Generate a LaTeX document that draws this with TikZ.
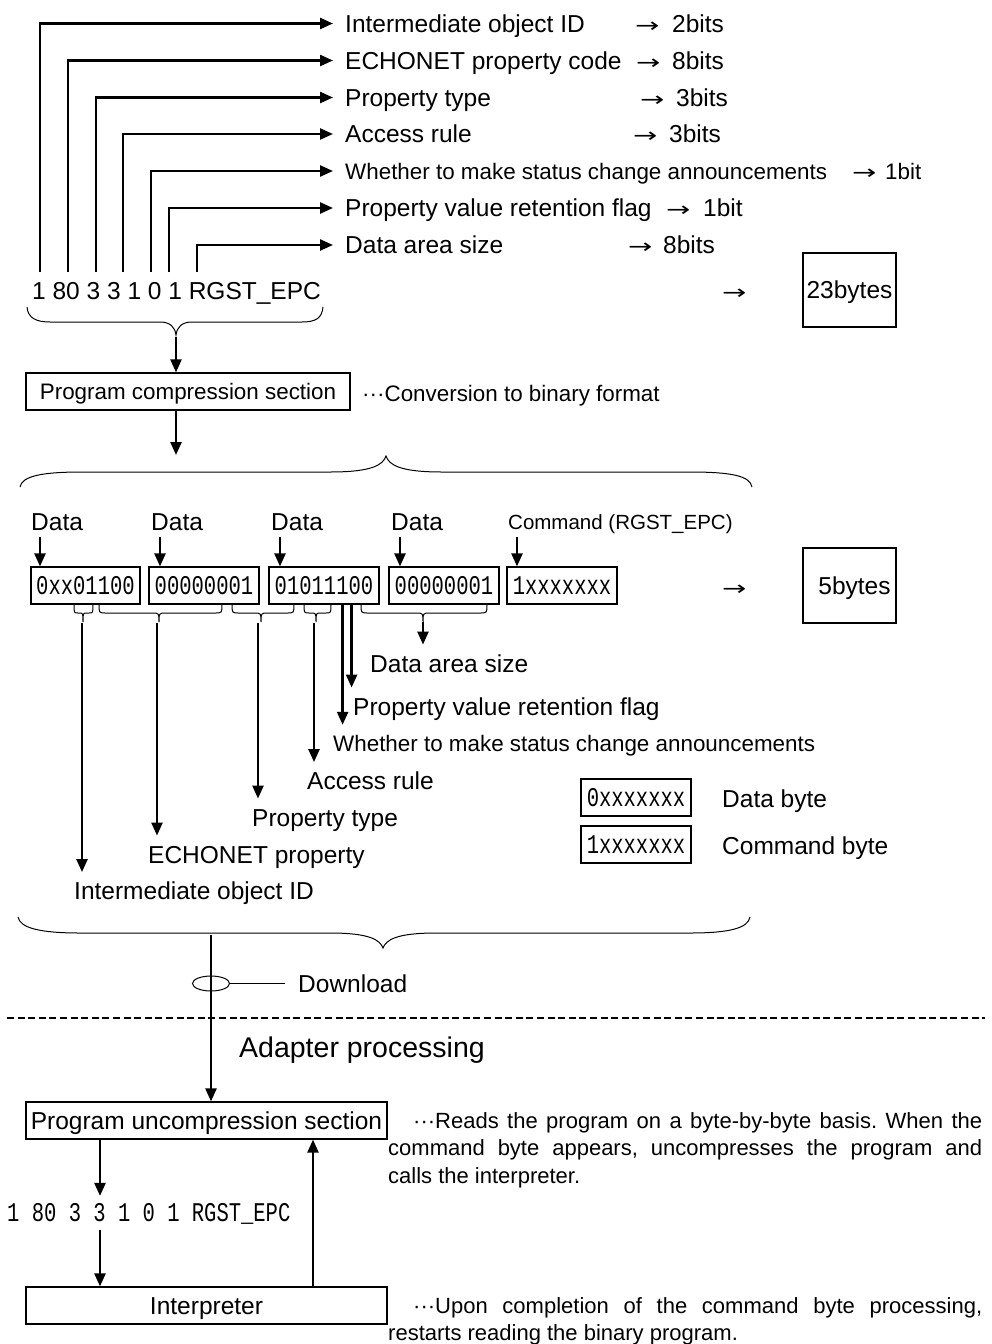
\documentclass[tikz,border=0pt]{standalone}
\usepackage{fontspec}
\usepackage{graphicx}
\setmainfont{Liberation Sans}
\newfontfamily\bytefont[FakeStretch=0.76]{Liberation Mono}
\newfontfamily\arrowfont{DejaVu Sans}
\usetikzlibrary{arrows.meta,shapes.geometric}
\newcommand\setfs[1]{\fontsize{#1}{#1}\selectfont}
\newcommand\textarrow{\scalebox{1.45}[1]{\arrowfont →}}
\newcommand\bytebrace[4]{%
  \draw[br] (#1,604) .. controls (#1,613) .. (#1+#4,613) -- (#3-#4,613)
    .. controls (#3,613) .. (#3,622) .. controls (#3,613) .. (#3+#4,613)
    -- (#2-#4,613) .. controls (#2,613) .. (#2,604);}
\frenchspacing
\begin{document}
\begin{tikzpicture}[x=1pt,y=-1pt,
  arr/.style={line width=2.4pt,-{Triangle[length=13pt,width=11pt]}},
  br/.style={line width=1pt},
  lbl/.style={anchor=west,inner sep=0pt,text depth=0pt},
  fA/.style={font=\setfs{24.5},text height=17.5pt},
  fB/.style={font=\setfs{22.4},text height=16pt},
  fC/.style={font=\setfs{20.5},text height=14.7pt},
  fD/.style={font=\setfs{28.5},text height=20.4pt},
  fAr/.style={font=\setfs{20},text height=15pt},
  fM/.style={font=\bytefont\setfs{27},text height=17.8pt},
  sbox/.style={draw,line width=1.2pt,inner sep=0pt,minimum height=37pt,text depth=0pt},
  bytebox/.style={sbox,fM,minimum width=110pt},
  para/.style={anchor=north west,inner sep=0pt,text width=594pt,align=justify,
    font=\fontsize{22}{27.5}\selectfont},
]
\useasboundingbox (0,0) rectangle (992,1344);

% ---------- top: field list ----------
\node[lbl,fA] (l1) at (345,23.5) {Intermediate object ID};
\node[lbl,fA] (l2) at (345,60.5) {ECHONET property code};
\node[lbl,fA] (l3) at (345,97.5) {Property type};
\node[lbl,fA] (l4) at (345,134) {Access rule};
\node[lbl,fB] (l5) at (345,171) {Whether to make status change announcements};
\node[lbl,fA] (l6) at (345,208) {Property value retention flag};
\node[lbl,fA] (l7) at (345,245) {Data area size};

\node[lbl,fAr] (r1a) at (635,24.5) {\textarrow};  \node[lbl,fA] (r1) at (672,23.5) {2bits};
\node[lbl,fAr] (r2a) at (636,61.5) {\textarrow};  \node[lbl,fA] (r2) at (672,60.5) {8bits};
\node[lbl,fAr] (r3a) at (640,98.5) {\textarrow};  \node[lbl,fA] (r3) at (676,97.5) {3bits};
\node[lbl,fAr] (r4a) at (633,135) {\textarrow};   \node[lbl,fA] (r4) at (669,134) {3bits};
\node[lbl,fAr] (r5a) at (852,172) {\textarrow};   \node[lbl,fB] (r5) at (885,171) {1bit};
\node[lbl,fAr] (r6a) at (666,209) {\textarrow};   \node[lbl,fA] (r6) at (703,208) {1bit};
\node[lbl,fAr] (r7a) at (628,246) {\textarrow};   \node[lbl,fA] (r7) at (663,245) {8bits};

\node[lbl,fA] (code) at (32,291) {1 80 3 3 1 0 1 RGST\_EPC};
\foreach \i/\x in {1/40,2/68,3/96,4/123,5/151,6/169,7/197}{
  \coordinate (c\i) at (\x,272);
  \draw[arr,shorten >=12pt] (c\i) |- (l\i.west);
}

\node[lbl,fAr] (ar23) at (722,292) {\textarrow};
\node[sbox,fA,minimum width=93pt,minimum height=74pt] (bytes23) at (849.5,290) {23bytes};

% brace under the source line
\draw[br] (27,307) .. controls (28,318) and (36,322) .. (50,322) -- (160,322)
  .. controls (170,322) and (175,327) .. (176,335)
  .. controls (177,327) and (182,322) .. (192,322) -- (302,322)
  .. controls (316,322) and (322,318) .. (323,307);
\coordinate (t0) at (176,337);

\node[sbox,fB,minimum width=324pt] (pcs) at (188,391.5) {Program compression section};
\draw[arr] (t0) -- (t0 |- pcs.north);
\node[lbl,fB] (conv) at (362,393) {···Conversion to binary format};
\coordinate (t1) at (176,455);
\draw[arr] (pcs.south -| t1) -- (t1);

% big brace (open downwards)
\draw[br] (20,487) .. controls (22,476) and (42,472) .. (82,472) -- (330,472)
  .. controls (372,472) and (383,465) .. (386,456)
  .. controls (389,465) and (400,472) .. (442,472) -- (690,472)
  .. controls (732,472) and (750,476) .. (752,487);

% ---------- compressed bytes ----------
\node[lbl,fA] (d1) at (31,521.5) {Data};
\node[lbl,fA] (d2) at (151,521.5) {Data};
\node[lbl,fA] (d3) at (271,521.5) {Data};
\node[lbl,fA] (d4) at (391,521.5) {Data};
\node[lbl,fC] (d5) at (508,522.5) {Command (RGST\_EPC)};

\node[bytebox,minimum width=109pt] (b1) at (85.5,585.5) {0xx01100};
\node[bytebox] (b2) at (204,585.5) {00000001};
\node[bytebox] (b3) at (324,585.5) {01011100};
\node[bytebox] (b4) at (444,585.5) {00000001};
\node[bytebox] (b5) at (562,585.5) {1xxxxxxx};

\foreach \i in {1,...,5}{
  \draw[arr,shorten <=7pt] ([xshift=9pt]d\i.south west) -- ([xshift=9pt]d\i.south west |- b\i.north);
}

\node[lbl,fAr] (ar5) at (722,588) {\textarrow};
\node[sbox,fA,minimum width=93pt,minimum height=75pt] (bytes5) at (849.5,585.5) {\hspace*{10pt}5bytes};

% small braces under the bytes
\bytebrace{74}{93}{83}{4}
\bytebrace{99}{222}{159}{7}
\bytebrace{232}{294}{261}{7}
\bytebrace{304}{331}{316}{5}
\bytebrace{361}{487}{423}{7}
\coordinate (bt1) at (82,623);
\coordinate (bt2) at (157,623);
\coordinate (bt3) at (258,623);
\coordinate (bt4) at (314,623);
\coordinate (bt5) at (423,622);

\node[lbl,fA] (dsz) at (370,663.5) {Data area size};
\node[lbl,fA] (pvr) at (353,706.5) {Property value retention flag};
\node[lbl,fB] (wsc) at (333,743) {Whether to make status change announcements};
\node[lbl,fA] (acc) at (307,781) {Access rule};
\node[lbl,fA] (pty) at (252,817.5) {Property type};
\node[lbl,fA] (ech) at (148,854.5) {ECHONET property};
\node[lbl,fA] (iid) at (74,891) {Intermediate object ID};

\draw[arr,shorten >=10pt] (bt1) -- (bt1 |- iid.north);
\draw[arr,shorten >=10pt] (bt2) -- (bt2 |- ech.north);
\draw[arr,shorten >=10pt] (bt3) -- (bt3 |- pty.north);
\draw[arr,shorten >=10pt] (bt4) -- (bt4 |- acc.north);
\draw[arr,shorten >=10pt] ([xshift=-37pt]b3.south east) -- ([xshift=-37pt]b3.south east |- wsc.north);
\draw[arr,shorten >=10pt] ([xshift=-28pt]b3.south east) -- ([xshift=-28pt]b3.south east |- pvr.north);
\draw[arr,shorten >=10pt] (bt5) -- (bt5 |- dsz.north);

% legend
\node[bytebox] (lg0) at (636,797.5) {0xxxxxxx};
\node[bytebox] (lg1) at (636,844.5) {1xxxxxxx};
\node[lbl,fA] (lgt0) at (722,798.5) {Data byte};
\node[lbl,fA] (lgt1) at (722,845.5) {Command byte};

% big brace (closed downwards)
\draw[br] (18,917) .. controls (20,928) and (40,933) .. (80,933) -- (330,933)
  .. controls (370,933) and (380,940) .. (383,948)
  .. controls (386,940) and (396,933) .. (436,933) -- (690,933)
  .. controls (730,933) and (748,928) .. (750,917);

% ---------- download ----------
\coordinate (dtop) at (211,935);
\node[draw,ellipse,line width=1pt,minimum width=37pt,minimum height=15pt,inner sep=0pt] (ell) at (211,983.5) {};
\node[lbl,fA] (dl) at (298,983.5) {Download};
\draw[line width=1pt] (ell.east) -- ([xshift=-13pt]dl.west);

\coordinate (dsL) at (7,1018);
\coordinate (dsR) at (985,1018);
\draw[line width=1.3pt,dash pattern=on 7pt off 3.6pt] (dsL) -- (dsR);

\node[lbl,fD] (ap) at (239,1047) {Adapter processing};

% ---------- adapter ----------
\node[sbox,fA,minimum width=361pt] (puc) at (206.5,1120.5) {Program uncompression section};
\draw[arr] (dtop) -- (dtop |- puc.north);

\node[lbl,fM] (ucode) at (7,1213) {1 80 3 3 1 0 1 RGST\_EPC};
\node[sbox,fA,minimum width=361pt] (itp) at (206.5,1305.5) {Interpreter};

\coordinate (k1) at (100,1139);
\coordinate (k3) at (313,1287);
\draw[arr,shorten >=8pt] (puc.south -| k1) -- (ucode.north -| k1);
\draw[arr,shorten <=8pt] (ucode.south -| k1) -- (itp.north -| k1);
\draw[arr] (itp.north -| k3) -- (puc.south -| k3);

\node[para] (rd) at (388,1112) {\hyphenpenalty=10000\exhyphenpenalty=10000
  \hspace*{25pt}···Reads the program on a byte-by-byte basis. When the\linebreak
  command byte appears, uncompresses the program and\linebreak
  calls the interpreter.};
\node[para] (up) at (388,1297) {\hyphenpenalty=10000\exhyphenpenalty=10000
  \hspace*{25pt}···Upon completion of the command byte processing,\linebreak
  restarts reading the binary program.};
\end{tikzpicture}
\end{document}
